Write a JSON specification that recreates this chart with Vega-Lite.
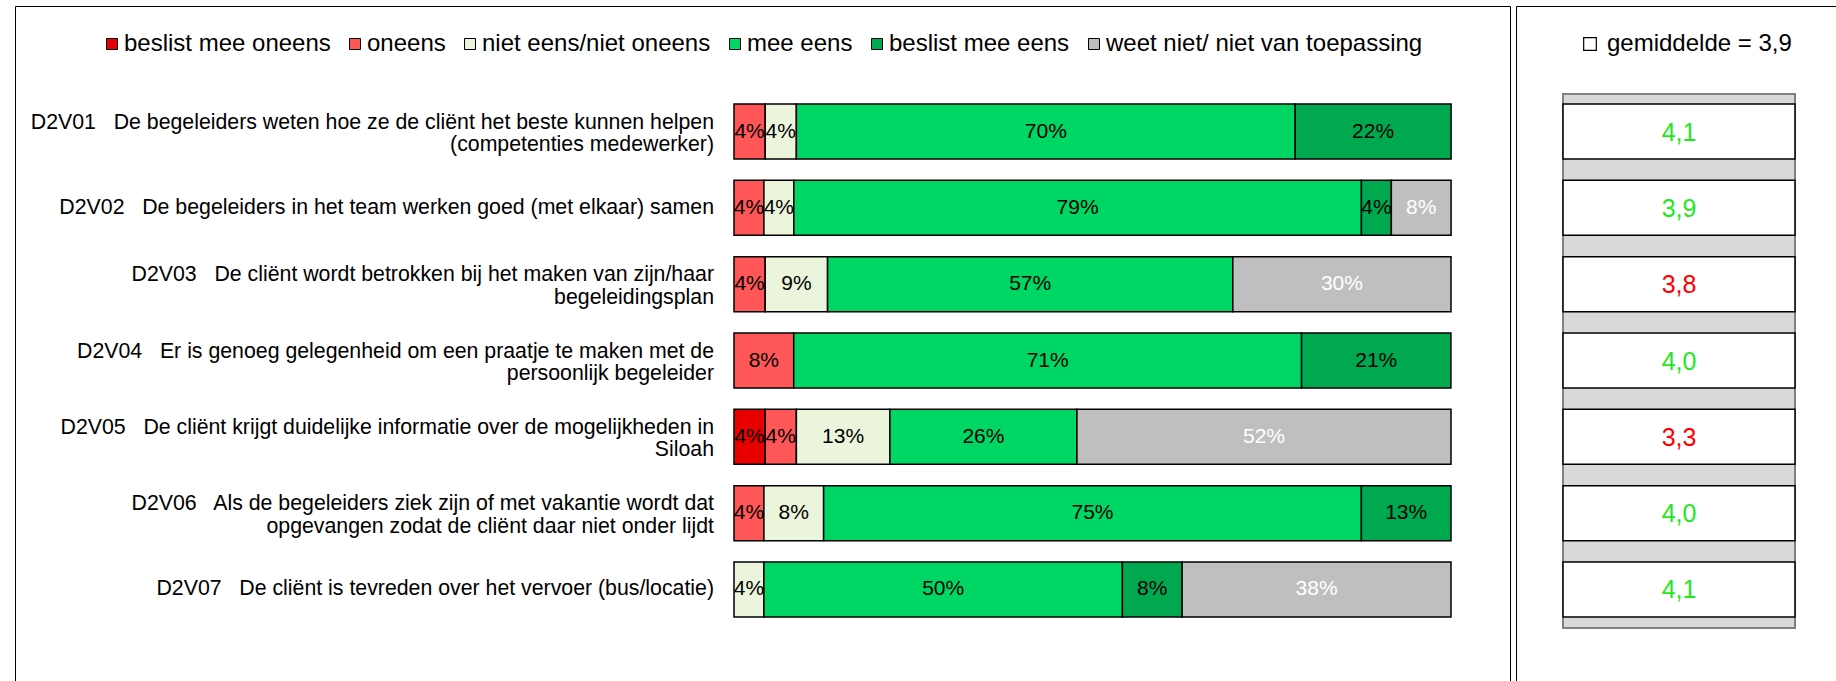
{
  "$schema": "https://vega.github.io/schema/vega-lite/v6.json",
  "padding": {"left": 14, "top": 5, "right": 0, "bottom": 0},
  "autosize": {"type": "pad"},
  "spacing": 4,
  "config": {
    "font": "Liberation Sans",
    "view": {"stroke": "black", "strokeWidth": 1},
    "locale": {"number": {"decimal": ",", "thousands": ".", "grouping": [3], "currency": ["€", ""]}},
    "legend": {"padding": 0}
  },
  "datasets": {
    "resp": [
      {"id": "D2V01", "code": 2, "cat": "oneens", "p": 0.0435},
      {"id": "D2V01", "code": 3, "cat": "niet eens/niet oneens", "p": 0.0435},
      {"id": "D2V01", "code": 4, "cat": "mee eens", "p": 0.6957},
      {"id": "D2V01", "code": 5, "cat": "beslist mee eens", "p": 0.2174},
      {"id": "D2V02", "code": 2, "cat": "oneens", "p": 0.0417},
      {"id": "D2V02", "code": 3, "cat": "niet eens/niet oneens", "p": 0.0417},
      {"id": "D2V02", "code": 4, "cat": "mee eens", "p": 0.7917},
      {"id": "D2V02", "code": 5, "cat": "beslist mee eens", "p": 0.0417},
      {"id": "D2V02", "code": 9, "cat": "weet niet/ niet van toepassing", "p": 0.0833},
      {"id": "D2V03", "code": 2, "cat": "oneens", "p": 0.0435},
      {"id": "D2V03", "code": 3, "cat": "niet eens/niet oneens", "p": 0.087},
      {"id": "D2V03", "code": 4, "cat": "mee eens", "p": 0.5652},
      {"id": "D2V03", "code": 9, "cat": "weet niet/ niet van toepassing", "p": 0.3043},
      {"id": "D2V04", "code": 2, "cat": "oneens", "p": 0.0833},
      {"id": "D2V04", "code": 4, "cat": "mee eens", "p": 0.7083},
      {"id": "D2V04", "code": 5, "cat": "beslist mee eens", "p": 0.2083},
      {"id": "D2V05", "code": 1, "cat": "beslist mee oneens", "p": 0.0435},
      {"id": "D2V05", "code": 2, "cat": "oneens", "p": 0.0435},
      {"id": "D2V05", "code": 3, "cat": "niet eens/niet oneens", "p": 0.1304},
      {"id": "D2V05", "code": 4, "cat": "mee eens", "p": 0.2609},
      {"id": "D2V05", "code": 9, "cat": "weet niet/ niet van toepassing", "p": 0.5217},
      {"id": "D2V06", "code": 2, "cat": "oneens", "p": 0.0417},
      {"id": "D2V06", "code": 3, "cat": "niet eens/niet oneens", "p": 0.0833},
      {"id": "D2V06", "code": 4, "cat": "mee eens", "p": 0.75},
      {"id": "D2V06", "code": 5, "cat": "beslist mee eens", "p": 0.125},
      {"id": "D2V07", "code": 3, "cat": "niet eens/niet oneens", "p": 0.0417},
      {"id": "D2V07", "code": 4, "cat": "mee eens", "p": 0.5},
      {"id": "D2V07", "code": 5, "cat": "beslist mee eens", "p": 0.0833},
      {"id": "D2V07", "code": 9, "cat": "weet niet/ niet van toepassing", "p": 0.375}
    ],
    "q": [
      {"id": "D2V01", "mean": 4.09, "label": "D2V01\u00a0\u00a0 De begeleiders weten hoe ze de cliënt het beste kunnen helpen\n(competenties medewerker)"},
      {"id": "D2V02", "mean": 3.91, "label": "D2V02\u00a0\u00a0 De begeleiders in het team werken goed (met elkaar) samen"},
      {"id": "D2V03", "mean": 3.75, "label": "D2V03\u00a0\u00a0 De cliënt wordt betrokken bij het maken van zijn/haar\nbegeleidingsplan"},
      {"id": "D2V04", "mean": 4.04, "label": "D2V04\u00a0\u00a0 Er is genoeg gelegenheid om een praatje te maken met de\npersoonlijk begeleider"},
      {"id": "D2V05", "mean": 3.27, "label": "D2V05\u00a0\u00a0 De cliënt krijgt duidelijke informatie over de mogelijkheden in\nSiloah"},
      {"id": "D2V06", "mean": 3.96, "label": "D2V06\u00a0\u00a0 Als de begeleiders ziek zijn of met vakantie wordt dat\nopgevangen zodat de cliënt daar niet onder lijdt"},
      {"id": "D2V07", "mean": 4.07, "label": "D2V07\u00a0\u00a0 De cliënt is tevreden over het vervoer (bus/locatie)"}
    ]
  },
  "hconcat": [
    {
      "width": 1495,
      "height": 700,
      "layer": [
        {
          "data": {"name": "resp"},
          "mark": {"type": "bar", "stroke": "black", "strokeWidth": 1.5},
          "encoding": {
            "y": {"field": "id", "type": "nominal", "axis": null, "scale": {"type": "band", "range": [98, 611], "paddingInner": 0.279, "paddingOuter": 0}},
            "x": {"field": "p", "type": "quantitative", "stack": "zero", "axis": null, "scale": {"domain": [-1.00279, 1.08229], "nice": false, "zero": false}},
            "color": {
              "field": "cat", "type": "nominal",
              "scale": {
                "domain": ["beslist mee oneens", "oneens", "niet eens/niet oneens", "mee eens", "beslist mee eens", "weet niet/ niet van toepassing"],
                "range": ["#E80000", "#FF5757", "#EAF5DC", "#00D664", "#00A94F", "#BFBFBF"]
              },
              "legend": {
                "orient": "none", "legendX": 85, "legendY": 26, "direction": "horizontal", "columns": 6,
                "title": null, "symbolType": "square", "symbolSize": 121, "symbolStrokeColor": "black", "symbolStrokeWidth": 1,
                "labelFontSize": 24, "labelOffset": 0, "columnPadding": 12, "labelLimit": 0, "labelColor": "black"
              }
            },
            "order": {"field": "code", "type": "quantitative"}
          }
        },
        {
          "data": {"name": "resp"},
          "mark": {"type": "text", "fontSize": 21, "baseline": "middle"},
          "encoding": {
            "y": {"field": "id", "type": "nominal"},
            "x": {"field": "p", "type": "quantitative", "stack": "zero", "bandPosition": 0.5},
            "detail": {"field": "cat"},
            "order": {"field": "code", "type": "quantitative"},
            "text": {"field": "p", "type": "quantitative", "format": ".0%"},
            "color": {"condition": {"test": "datum.code === 9", "value": "white"}, "value": "black"}
          }
        },
        {
          "data": {"name": "q"},
          "transform": [{"filter": "indexof(datum.label, '\\n') < 0"}],
          "mark": {"type": "text", "align": "right", "baseline": "middle", "dx": -20, "fontSize": 21.3, "lineBreak": "\n", "lineHeight": 22.5, "color": "black"},
          "encoding": {
            "y": {"field": "id", "type": "nominal"},
            "x": {"datum": 0, "type": "quantitative"},
            "text": {"field": "label"}
          }
        },
        {
          "data": {"name": "q"},
          "transform": [{"filter": "indexof(datum.label, '\\n') >= 0"}],
          "mark": {"type": "text", "align": "right", "baseline": "middle", "dx": -20, "dy": -9, "fontSize": 21.3, "lineBreak": "\n", "lineHeight": 22.5, "color": "black"},
          "encoding": {
            "y": {"field": "id", "type": "nominal"},
            "x": {"datum": 0, "type": "quantitative"},
            "text": {"field": "label"}
          }
        }
      ]
    },
    {
      "width": 340,
      "height": 700,
      "layer": [
        {
          "data": {"values": [{}]},
          "mark": {"type": "bar", "fill": "#D9D9D9", "stroke": "#808080", "strokeWidth": 2},
          "encoding": {
            "x": {"datum": 0, "type": "quantitative", "axis": null, "scale": {"domain": [-0.2026, 1.2629], "nice": false, "zero": false}},
            "x2": {"datum": 1},
            "y": {"datum": "all", "type": "nominal", "axis": null, "scale": {"type": "band", "range": [88, 622], "paddingInner": 0, "paddingOuter": 0}}
          }
        },
        {
          "layer": [
            {
              "data": {"name": "q"},
              "mark": {"type": "bar", "stroke": "black", "strokeWidth": 1.5},
              "encoding": {
                "x": {"datum": 0, "type": "quantitative"},
                "x2": {"datum": 1},
                "y": {"field": "id", "type": "nominal", "axis": null, "scale": {"type": "band", "range": [98, 611], "paddingInner": 0.279, "paddingOuter": 0}},
                "fill": {
                  "datum": "gemiddelde = 3,9", "type": "nominal",
                  "scale": {"range": ["#FFFFFF"]},
                  "legend": {
                    "orient": "none", "legendX": 1563, "legendY": 26, "title": null,
                    "symbolType": "square", "symbolSize": 160, "symbolStrokeColor": "black", "symbolStrokeWidth": 1.2,
                    "labelFontSize": 24, "labelOffset": 5, "labelLimit": 0, "labelColor": "black"
                  }
                }
              }
            },
            {
              "data": {"name": "q"},
              "mark": {"type": "text", "fontSize": 25, "baseline": "middle", "dy": 1},
              "encoding": {
                "x": {"datum": 0.5, "type": "quantitative"},
                "y": {"field": "id", "type": "nominal"},
                "text": {"field": "mean", "type": "quantitative", "format": ".1f"},
                "color": {"condition": {"test": "datum.mean >= 3.9", "value": "#1EE81E"}, "value": "#FF0000"}
              }
            }
          ]
        }
      ],
      "resolve": {"scale": {"y": "independent"}}
    }
  ]
}
